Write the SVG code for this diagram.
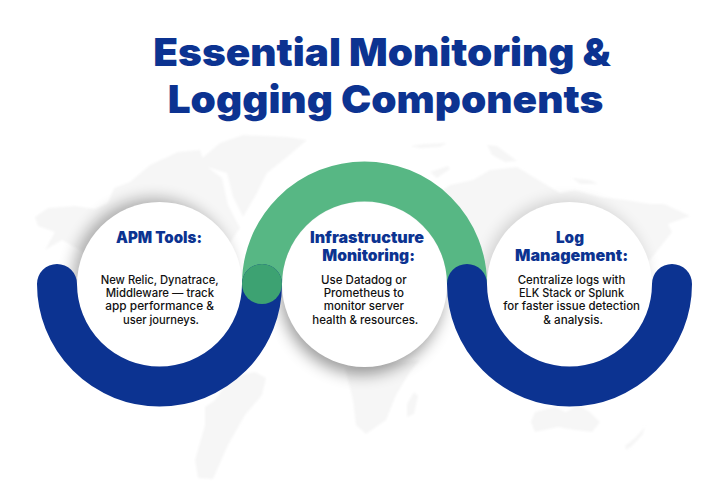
<svg xmlns="http://www.w3.org/2000/svg" width="720" height="488" viewBox="0 0 720 488">
  <defs>
    <filter id="blur" x="-40%" y="-40%" width="180%" height="180%"><feGaussianBlur stdDeviation="8"/></filter>
    <filter id="soft" x="-5%" y="-5%" width="110%" height="110%"><feGaussianBlur stdDeviation="0.8"/></filter>
  </defs>
  <style>
    text { font-family: "Inter", "Liberation Sans", sans-serif; text-anchor: start; }
    .title { font-size: 39px; font-weight: 900; fill: #0c3391; }
    .head { font-size: 15.5px; font-weight: 900; fill: #0c3391; }
    .body { font-size: 11.5px; font-weight: 500; fill: #111111; }
    .disc { fill: #ffffff; }
    .shadow { fill: #000000; filter: url(#blur); }
    .map { fill: #f6f6f6; filter: url(#soft); }
    .arc { fill: none; stroke-width: 40; }
  </style>
  <rect width="720" height="488" fill="#ffffff"/>
  <g id="world-map" class="map">
    <path d="M35 217L48 208L75 206L95 209L108 203L114 188L130 182L150 165L178 152L200 150L205 165L222 178L228 205L240 228L225 250L215 300L150 310L80 250L62 240L45 250L55 232L38 226Z"/>
    <path d="M200 160L220 143L243 135L287 137L307 140L287 157L267 173L257 193L243 217L233 197L227 173L207 167Z"/>
    <path d="M215 400L225 385L240 375L255 372L266 378L262 395L245 415L228 445L213 479L198 478L195 460L205 425L205 407Z"/>
    <path d="M345 368L420 360L410 372L396 395L386 420L366 434L356 425L353 400Z"/>
    <path d="M414 392L418 396L414 414L407 417L407 404Z"/>
    <path d="M535 412L555 407L566 412L578 405L590 412L600 422L592 432L575 430L558 427L535 432L531 422Z"/>
    <path d="M645 427L643 434L632 446L626 450L625 446L635 438Z"/>
    <path d="M410 146L425 144L447 143L440 147L420 148Z"/>
    <path d="M487 145L497 146L517 161L505 162L492 155Z"/>
    <path d="M430 172L448 166L450 169L437 178Z"/>
    <path d="M410 240L420 205L450 185L473 180L490 170L517 167L535 178L560 193L575 190L600 197L625 200L650 204L664 204L690 216L668 224L672 232L650 260L500 300L420 260Z"/>
    <path d="M572 178L590 180L598 184L580 184Z"/>
  </g>
  <g id="node-apm">
    <circle class="shadow" cx="153" cy="279" r="80" opacity="0.32"/>
    <circle class="disc" cx="159.5" cy="284.5" r="82.5"/>
    <text class="head" x="116" y="243" textLength="86" lengthAdjust="spacingAndGlyphs">APM Tools:</text>
    <text class="body" x="100.7" y="284" textLength="118" lengthAdjust="spacingAndGlyphs">New Relic, Dynatrace,</text>
    <text class="body" x="105.7" y="297.2" textLength="108.3" lengthAdjust="spacingAndGlyphs">Middleware — track</text>
    <text class="body" x="105.3" y="310.4" textLength="108.7" lengthAdjust="spacingAndGlyphs">app performance &amp;</text>
    <text class="body" x="123" y="323.5" textLength="76" lengthAdjust="spacingAndGlyphs">user journeys.</text>
  </g>
  <g id="node-infrastructure">
    <circle class="shadow" cx="362" cy="293" r="81" opacity="0.4"/>
    <circle class="disc" cx="364.5" cy="284.5" r="82.5"/>
    <text class="head" x="310" y="242.5" textLength="114" lengthAdjust="spacingAndGlyphs">Infrastructure</text>
    <text class="head" x="322.3" y="261" textLength="92.7" lengthAdjust="spacingAndGlyphs">Monitoring:</text>
    <text class="body" x="321" y="284" textLength="85.7" lengthAdjust="spacingAndGlyphs">Use Datadog or</text>
    <text class="body" x="323.7" y="297.2" textLength="80.3" lengthAdjust="spacingAndGlyphs">Prometheus to</text>
    <text class="body" x="323.7" y="310.4" textLength="80.3" lengthAdjust="spacingAndGlyphs">monitor server</text>
    <text class="body" x="312.3" y="323.5" textLength="106" lengthAdjust="spacingAndGlyphs">health &amp; resources.</text>
  </g>
  <g id="node-log">
    <circle class="shadow" cx="566" cy="281" r="81" opacity="0.16"/>
    <circle class="disc" cx="569.5" cy="284.5" r="82.5"/>
    <text class="head" x="556" y="243" textLength="28" lengthAdjust="spacingAndGlyphs">Log</text>
    <text class="head" x="515" y="261" textLength="113.3" lengthAdjust="spacingAndGlyphs">Management:</text>
    <text class="body" x="517.7" y="284" textLength="107.6" lengthAdjust="spacingAndGlyphs">Centralize logs with</text>
    <text class="body" x="519" y="297.2" textLength="105" lengthAdjust="spacingAndGlyphs">ELK Stack or Splunk</text>
    <text class="body" x="503.3" y="310.4" textLength="136.7" lengthAdjust="spacingAndGlyphs">for faster issue detection</text>
    <text class="body" x="543.3" y="323.5" textLength="59.7" lengthAdjust="spacingAndGlyphs">&amp; analysis.</text>
  </g>
  <g id="connectors">
    <path class="arc" stroke="#57b784" d="M262 284A102.5 102.5 0 0 1 467 284"/>
    <path class="arc" stroke="#0c3391" stroke-linecap="round" d="M57 284A102.5 102.5 0 0 0 262 284"/>
    <path class="arc" stroke="#0c3391" stroke-linecap="round" d="M467 284A102.5 102.5 0 0 0 672 284"/>
    <circle cx="262" cy="284" r="20" fill="#3da272"/>
  </g>
  <g id="title">
    <text class="title" x="153.3" y="66" textLength="457.4" lengthAdjust="spacingAndGlyphs">Essential Monitoring &amp;</text>
    <text class="title" x="167.7" y="113" textLength="435.6" lengthAdjust="spacingAndGlyphs">Logging Components</text>
  </g>
</svg>
